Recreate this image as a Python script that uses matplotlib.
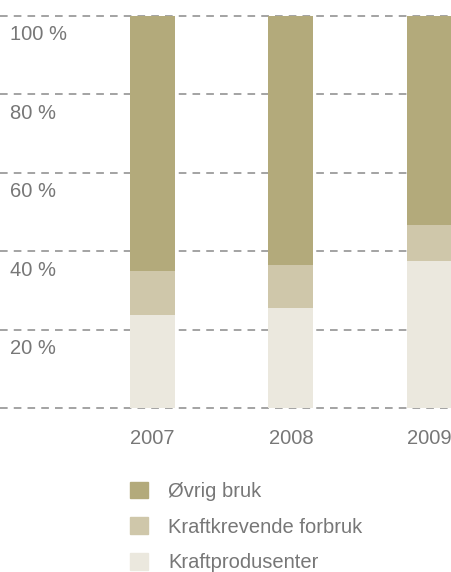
import matplotlib
matplotlib.use("Agg")
import matplotlib.pyplot as plt
import matplotlib.transforms as mtransforms
from matplotlib.patches import Patch

years = ["2007", "2008", "2009"]
kraftprodusenter = [23.8, 25.6, 37.5]
kraftkrevende = [11.2, 10.9, 9.2]
ovrig = [65.0, 63.5, 53.3]
series_names = ["Øvrig bruk", "Kraftkrevende forbruk", "Kraftprodusenter"]
yticks = [0, 20, 40, 60, 80, 100]
ytick_labels = ["", "20 %", "40 %", "60 %", "80 %", "100 %"]

c_ovrig = "#b3aa7b"
c_krev = "#cfc7aa"
c_prod = "#ebe8de"
text_color = "#777777"
fs = 14.5

plt.rcParams['font.family'] = ['Liberation Sans', 'DejaVu Sans']

W, H = 452, 572
fig = plt.figure(figsize=(W / 100, H / 100), dpi=100)
top_px, bot_px = 16, 408.3
ax = fig.add_axes([0, 1 - bot_px / H, 1, (bot_px - top_px) / H])

x = list(range(len(years)))
width = 0.325
ax.bar(x, kraftprodusenter, width, color=c_prod, zorder=2)
b2 = [a for a in kraftprodusenter]
ax.bar(x, kraftkrevende, width, bottom=b2, color=c_krev, zorder=2)
b3 = [a + b for a, b in zip(kraftprodusenter, kraftkrevende)]
ax.bar(x, ovrig, width, bottom=b3, color=c_ovrig, zorder=2)

ax.set_xlim(-1.101, 2.1625)
ax.set_ylim(0, 100)
for v in yticks:
    ax.axhline(v, color="#8a8a8a", lw=1.1, ls=(0, (5, 4)), zorder=1, clip_on=False)

for s in ax.spines.values():
    s.set_visible(False)
ax.set_yticks([])
ax.set_xticks(x, years)
ax.tick_params(axis='x', length=0, pad=15, labelsize=fs, labelcolor=text_color)

trans = mtransforms.blended_transform_factory(ax.transAxes, ax.transData)
trans = mtransforms.offset_copy(trans, fig=fig, y=-19, units='dots')
for v, lab in zip(yticks, ytick_labels):
    if lab:
        ax.text(10 / W, v, lab, transform=trans, ha='left', va='center',
                fontsize=fs, color=text_color)

handles = [Patch(color=c_ovrig), Patch(color=c_krev), Patch(color=c_prod)]
fig.legend(handles, series_names, loc='upper left',
           bbox_to_anchor=(130 / W, 1 - 481.5 / H), frameon=False,
           fontsize=fs, labelcolor=text_color, handlelength=0.9,
           handleheight=0.9, handletextpad=1.0, labelspacing=0.82,
           borderaxespad=0, borderpad=0.0)

fig.savefig("out.png", dpi=100)
